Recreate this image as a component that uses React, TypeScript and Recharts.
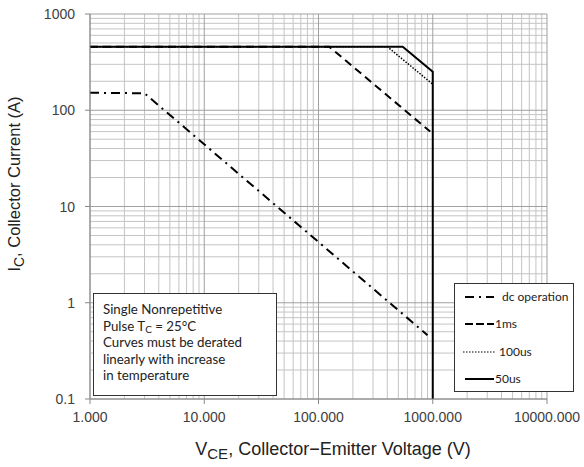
import React from 'react';
import { LineChart, Line, XAxis, YAxis, ReferenceLine } from 'recharts';

const xTicks = [1, 10, 100, 1000, 10000];
const yTicks = [0.1, 1, 10, 100, 1000];
const minorMultipliers = [2, 3, 4, 5, 6, 7, 8, 9];

const dcV = [1, 3, 900];
const dcI = [152, 150, 0.46];
const ms1V = [1, 124, 950];
const ms1I = [458, 458, 60];
const us100V = [1, 400, 990];
const us100I = [458, 458, 188];
const us50V = [1, 546, 1000, 1000];
const us50I = [458, 458, 251, 0.1];

const seriesNames = ['dc operation', '1ms', '100us', '50us'];

const zip = (xs: number[], ys: number[]) => xs.map((v, i) => ({ v, i: ys[i] }));
const dcData = zip(dcV, dcI);
const ms1Data = zip(ms1V, ms1I);
const us100Data = zip(us100V, us100I);
const us50Data = zip(us50V, us50I);

const minorX: number[] = [];
xTicks.slice(0, -1).forEach((d) => minorMultipliers.forEach((m) => minorX.push(d * m)));
const minorY: number[] = [];
yTicks.slice(0, -1).forEach((d) => minorMultipliers.forEach((m) => minorY.push(+(d * m).toPrecision(3))));

const tickFont = 'Liberation Sans, Arial, sans-serif';

const XTick = (props: any) => {
  const { x, y, payload } = props;
  return (
    <text x={x} y={y} dy={16} textAnchor="middle" fontFamily={tickFont} fontSize={14} fill="#404040">
      {Number(payload.value).toFixed(3)}
    </text>
  );
};

const YTick = (props: any) => {
  const { x, y, payload } = props;
  return (
    <text x={x - 8} y={y} dy={5} textAnchor="end" fontFamily={tickFont} fontSize={14} fill="#404040">
      {String(payload.value)}
    </text>
  );
};

const dashes = ['9 5 2 5', '8 3', '1.5 1.5', undefined];
const widths = [2, 2, 1.2, 2];
const sampleW = [29, 29, 32, 29];
const textGap = [8, 1, 4, 1];

const LegendSample = ({ idx }: { idx: number }) => (
  <svg width={sampleW[idx]} height={6} style={{ display: 'block' }}>
    <line x1={0} y1={3} x2={sampleW[idx]} y2={3} stroke="#000" strokeWidth={widths[idx]} strokeDasharray={dashes[idx]} />
  </svg>
);

export default function App() {
  const calibri = 'Lato, "Open Sans", sans-serif';
  const subStyle = { fontSize: 14, verticalAlign: '-4px', lineHeight: 0 } as const;
  return (
    <div style={{ position: 'absolute', left: 0, top: 0, width: 584, height: 467, background: '#fff' }}>
      <LineChart width={584} height={467} margin={{ top: 14, right: 37, bottom: 0, left: 0 }}>
        {minorX.map((v) => (
          <ReferenceLine key={'vx' + v} x={v} stroke="#c4c4c4" strokeWidth={1} />
        ))}
        {minorY.map((v) => (
          <ReferenceLine key={'hy' + v} y={v} stroke="#c4c4c4" strokeWidth={1} />
        ))}
        {xTicks.map((v) => (
          <ReferenceLine key={'VX' + v} x={v} stroke="#a0a0a0" strokeWidth={1} />
        ))}
        {yTicks.map((v) => (
          <ReferenceLine key={'HY' + v} y={v} stroke="#a0a0a0" strokeWidth={1} />
        ))}
        <XAxis
          dataKey="v"
          type="number"
          scale="log"
          domain={[1, 10000]}
          ticks={xTicks}
          allowDataOverflow
          height={68}
          tickSize={5}
          tickMargin={2}
          stroke="#888"
          tick={<XTick />}
        />
        <YAxis
          dataKey="i"
          type="number"
          scale="log"
          domain={[0.1, 1000]}
          ticks={yTicks}
          allowDataOverflow
          width={90}
          tickSize={5}
          tickMargin={2}
          stroke="#888"
          tick={<YTick />}
        />
        <Line data={dcData} dataKey="i" name={seriesNames[0]} stroke="#000" strokeWidth={2} strokeDasharray={dashes[0]} dot={false} isAnimationActive={false} />
        <Line data={ms1Data} dataKey="i" name={seriesNames[1]} stroke="#000" strokeWidth={2} strokeDasharray="8 5" dot={false} isAnimationActive={false} />
        <Line data={us100Data} dataKey="i" name={seriesNames[2]} stroke="#000" strokeWidth={1.5} strokeDasharray={dashes[2]} dot={false} isAnimationActive={false} />
        <Line data={us50Data} dataKey="i" name={seriesNames[3]} stroke="#000" strokeWidth={2} dot={false} isAnimationActive={false} />
      </LineChart>

      {/* Axis titles */}
      <div style={{ position: 'absolute', left: 333, top: 449, transform: 'translate(-50%, -50%)', fontFamily: tickFont, fontSize: 18, lineHeight: '20px', color: '#222', whiteSpace: 'nowrap' }}>
        V<sub style={{ ...subStyle, fontSize: 15 }}>CE</sub>, Collector−Emitter Voltage (V)
      </div>
      <div
        style={{
          position: 'absolute',
          left: 14,
          top: 184,
          transform: 'translate(-50%, -50%) rotate(-90deg)',
          fontFamily: tickFont,
          fontSize: 16.5,
          lineHeight: '20px',
          color: '#222',
          whiteSpace: 'nowrap',
        }}
      >
        I<sub style={subStyle}>C</sub>, Collector Current (A)
      </div>

      {/* Annotation box */}
      <div
        style={{
          position: 'absolute',
          left: 93,
          top: 293,
          width: 184,
          height: 103,
          border: '1px solid #333',
          background: '#fff',
          boxSizing: 'border-box',
          padding: '7px 0 0 9px',
          fontFamily: calibri,
          fontSize: 13.3,
          lineHeight: '16.5px',
          color: '#222',
        }}
      >
        <div>Single Nonrepetitive</div>
        <div>
          Pulse T<sub style={{ fontSize: 10, verticalAlign: '-2px', lineHeight: 0 }}>C</sub> = 25°C
        </div>
        <div>Curves must be derated</div>
        <div>linearly with increase</div>
        <div>in temperature</div>
      </div>

      {/* Legend box */}
      <div
        style={{
          position: 'absolute',
          left: 454,
          top: 283,
          width: 120,
          height: 109,
          border: '1px solid #333',
          background: '#fff',
          boxSizing: 'border-box',
          fontFamily: calibri,
          fontSize: 12,
          lineHeight: '14px',
          color: '#222',
        }}
      >
        {seriesNames.map((n, idx) => (
          <div
            key={n}
            style={{ position: 'absolute', left: idx === 2 ? 8 : 10, top: 6 + idx * 27.3, height: 14, display: 'flex', alignItems: 'center', whiteSpace: 'nowrap' }}
          >
            <LegendSample idx={idx} />
            <span style={{ marginLeft: textGap[idx] }}>{n}</span>
          </div>
        ))}
      </div>
    </div>
  );
}
